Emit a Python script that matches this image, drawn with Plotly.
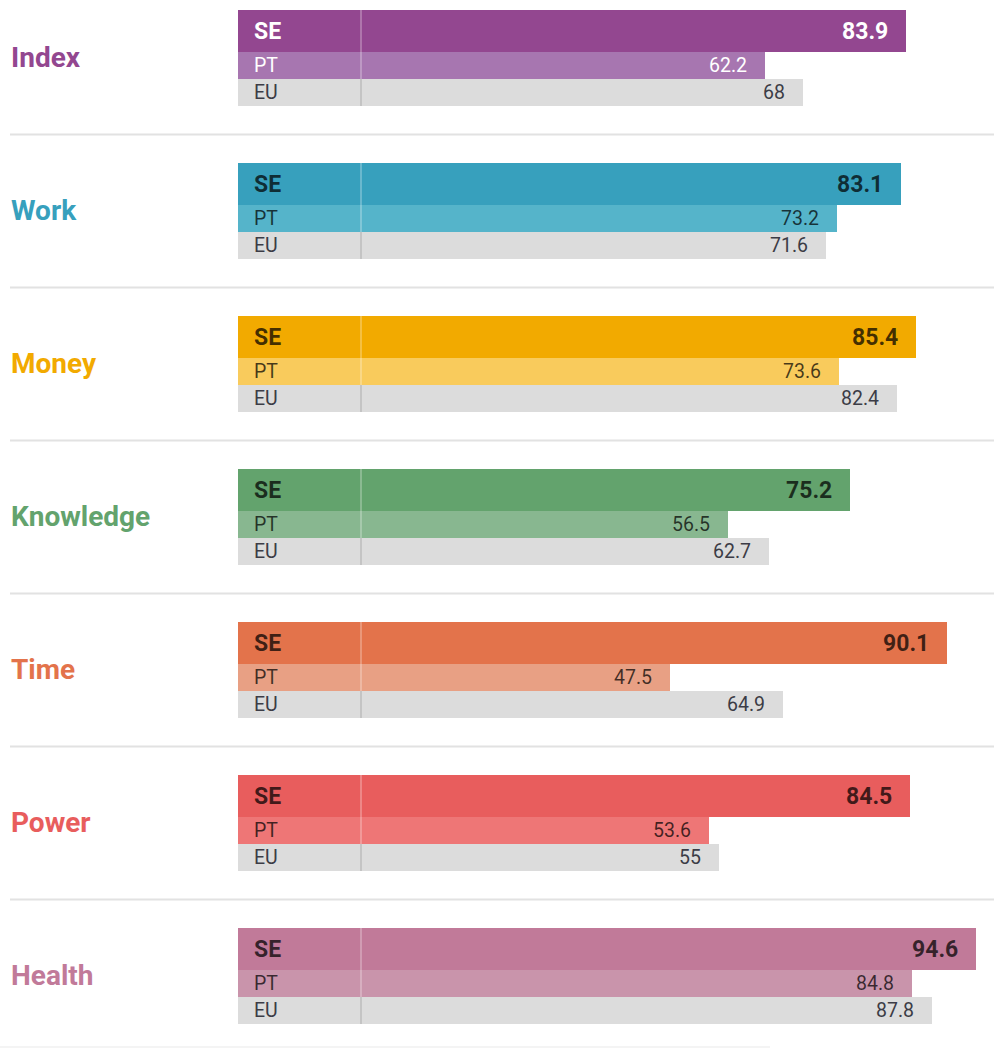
import plotly.graph_objects as go

# Dimension scores (0-100) for Sweden, Portugal and the EU average
CATEGORIES = ["Index", "Work", "Money", "Knowledge", "Time", "Power", "Health"]
SE = [83.9, 83.1, 85.4, 75.2, 90.1, 84.5, 94.6]
PT = [62.2, 73.2, 73.6, 56.5, 47.5, 53.6, 84.8]
EU = [68, 71.6, 82.4, 62.7, 64.9, 55, 87.8]
SERIES_LABELS = ["SE", "PT", "EU"]

# Palette per dimension: strong tone for SE, lighter tone for PT
SE_COLORS = ["#934790", "#37a0bd", "#f2aa00", "#63a36d", "#e3734b", "#e85d5d", "#c17a99"]
PT_COLORS = ["#a776b0", "#55b4ca", "#f9cb5c", "#88b790", "#e8a084", "#ee7676", "#c994ab"]
EU_COLOR = "#dcdcdc"

# Page geometry (pixels)
W, H = 994, 1049
ZERO_PX = 361.0          # x pixel of the value 0
PX_PER_UNIT = 6.5        # horizontal scale
BAR_START_PX = 238.0     # bars extend left of zero to carry the row labels
GROUP_TOP = 10.0
GROUP_PITCH = 153.0
ROW_H = [42.0, 27.0, 27.0]

x_min = -ZERO_PX / PX_PER_UNIT
x_max = (W - ZERO_PX) / PX_PER_UNIT
bar_base = (BAR_START_PX - ZERO_PX) / PX_PER_UNIT


def px_to_units(px):
    return px / PX_PER_UNIT


def row_center(g, r):
    top = GROUP_TOP + g * GROUP_PITCH + sum(ROW_H[:r])
    return top + ROW_H[r] / 2


fig = go.Figure()

series = [SE, PT, EU]
colors = [SE_COLORS, PT_COLORS, [EU_COLOR] * len(CATEGORIES)]
for r, (vals, cols) in enumerate(zip(series, colors)):
    fig.add_trace(go.Bar(
        orientation="h",
        y=[row_center(g, r) for g in range(len(CATEGORIES))],
        x=[v - bar_base for v in vals],
        base=[bar_base] * len(vals),
        width=[ROW_H[r]] * len(vals),
        marker=dict(color=cols, line=dict(width=0)),
        name=SERIES_LABELS[r],
        hoverinfo="skip",
        showlegend=False,
    ))

annotations = []
shapes = []
FONT = "Roboto, 'Noto Sans', sans-serif"
for g, cat in enumerate(CATEGORIES):
    light = g == 0  # white text on the darker purple group
    txt_col = "#ffffff" if light else "rgba(0,0,0,0.72)"
    eu_col = "#3c3c46"
    group_top = GROUP_TOP + g * GROUP_PITCH
    group_bot = group_top + sum(ROW_H)

    # dimension name on the left
    annotations.append(dict(
        x=px_to_units(9 - ZERO_PX), y=(group_top + group_bot) / 2 - 1,
        xref="x", yref="y", xanchor="left", yanchor="middle",
        text=f"<b>{cat}</b>", showarrow=False,
        font=dict(family=FONT, size=28, color=SE_COLORS[g]),
    ))

    for r, vals in enumerate(series):
        yc = row_center(g, r)
        col = eu_col if r == 2 else txt_col
        size = 23 if r == 0 else 19.5
        lbl = f"<b>{SERIES_LABELS[r]}</b>" if r == 0 else SERIES_LABELS[r]
        val = f"{vals[g]:g}"
        val = f"<b>{val}</b>" if r == 0 else val
        annotations.append(dict(
            x=bar_base + px_to_units(14), y=yc, xref="x", yref="y",
            xanchor="left", yanchor="middle", text=lbl, showarrow=False,
            font=dict(family=FONT, size=size, color=col),
        ))
        annotations.append(dict(
            x=vals[g] - px_to_units(16), y=yc, xref="x", yref="y",
            xanchor="right", yanchor="middle", text=val, showarrow=False,
            font=dict(family=FONT, size=size, color=col),
        ))

    # zero reference line across the group
    shapes.append(dict(
        type="line", xref="x", yref="y", x0=0, x1=0,
        y0=group_top, y1=group_top + ROW_H[0] + ROW_H[1],
        line=dict(color="rgba(255,255,255,0.35)", width=1.5), layer="above",
    ))
    shapes.append(dict(
        type="line", xref="x", yref="y", x0=0, x1=0,
        y0=group_top + ROW_H[0] + ROW_H[1], y1=group_bot,
        line=dict(color="#bdbdbd", width=1.5), layer="above",
    ))

    # separator below each group
    if g < len(CATEGORIES) - 1:
        sep_y = group_bot + (GROUP_PITCH - sum(ROW_H)) / 2
        shapes.append(dict(
            type="line", xref="paper", yref="y", x0=10 / W, x1=1,
            y0=sep_y, y1=sep_y,
            line=dict(color="#e2e2e2", width=2), layer="below",
        ))

shapes.append(dict(
    type="line", xref="paper", yref="y", x0=0, x1=770 / W,
    y0=1047, y1=1047, line=dict(color="#f4f4f4", width=2), layer="below",
))

fig.update_layout(
    width=W, height=H,
    margin=dict(l=0, r=0, t=0, b=0),
    paper_bgcolor="white", plot_bgcolor="white",
    barmode="overlay", bargap=0,
    xaxis=dict(range=[x_min, x_max], visible=False, fixedrange=True),
    yaxis=dict(range=[H, 0], visible=False, fixedrange=True),
    annotations=annotations, shapes=shapes,
    font=dict(family=FONT),
)

fig.write_html("out.html")
